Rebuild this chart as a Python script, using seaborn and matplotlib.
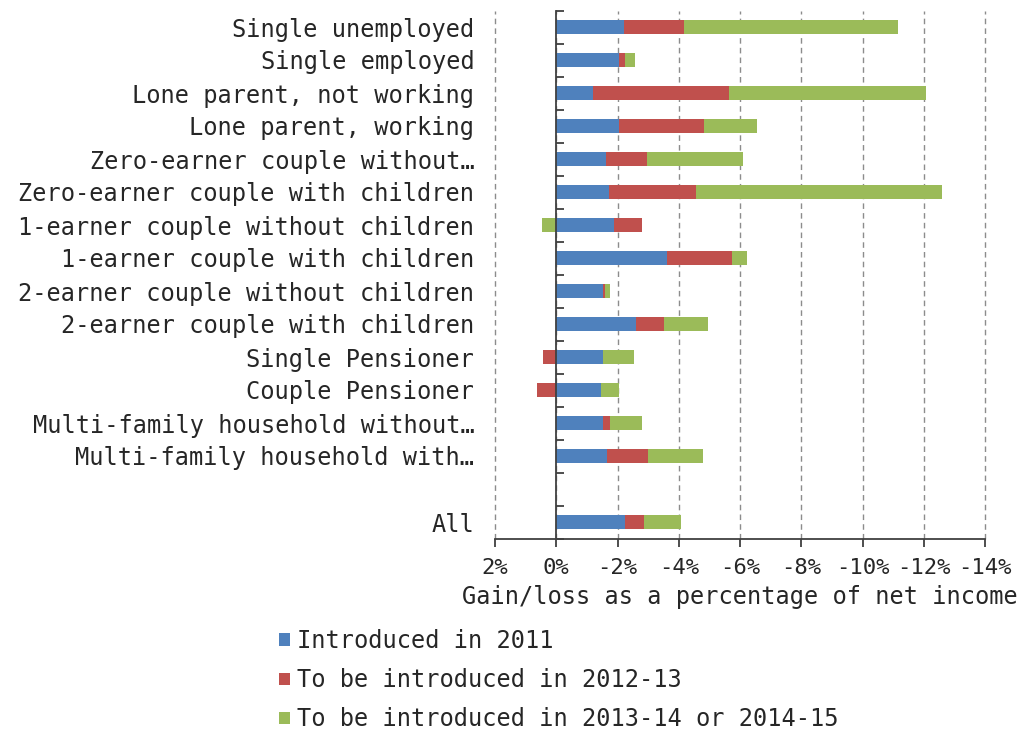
import numpy as np
import pandas as pd
import matplotlib
matplotlib.use("Agg")
import matplotlib.pyplot as plt
from matplotlib.patches import Patch
from matplotlib.ticker import FixedLocator, FuncFormatter, MultipleLocator
import seaborn as sns

# Household types, top to bottom (blank slot separates "All")
categories = [
    "Single unemployed",
    "Single employed",
    "Lone parent, not working",
    "Lone parent, working",
    "Zero-earner couple without…",
    "Zero-earner couple with children",
    "1-earner couple without children",
    "1-earner couple with children",
    "2-earner couple without children",
    "2-earner couple with children",
    "Single Pensioner",
    "Couple Pensioner",
    "Multi-family household without…",
    "Multi-family household with…",
    "",
    "All",
]

# Gain (+) / loss (-) as % of net income, by timing of reform
introduced_2011 = [-2.20, -2.04, -1.20, -2.04, -1.63, -1.71, -1.88, -3.63,
                   -1.53, -2.60, -1.54, -1.46, -1.54, -1.66, np.nan, -2.25]
introduced_2012_13 = [-1.98, -0.20, -4.44, -2.80, -1.34, -2.84, -0.91, -2.10,
                      -0.06, -0.91, 0.42, 0.63, -0.21, -1.35, np.nan, -0.63]
introduced_2013_15 = [-6.98, -0.34, -6.44, -1.72, -3.13, -8.03, 0.46, -0.49,
                      -0.16, -1.46, -1.00, -0.58, -1.04, -1.79, np.nan, -1.18]

series_names = [
    "Introduced in 2011",
    "To be introduced in 2012-13",
    "To be introduced in 2013-14 or 2014-15",
]
colors = ["#4F81BD", "#C0504D", "#9BBB59"]

sns.set_theme(style="white")
plt.rcParams["font.family"] = ["DejaVu Sans Mono", "DejaVu Sans"]
plt.rcParams["text.color"] = "#1a1a1a"

df = pd.DataFrame(
    {
        series_names[0]: introduced_2011,
        series_names[1]: introduced_2012_13,
        series_names[2]: introduced_2013_15,
    },
    index=categories,
)

fig = plt.figure(figsize=(10.22, 7.33), dpi=100)
ax = fig.add_axes([495 / 1022, 1 - 538.5 / 733, 490 / 1022, 528 / 733])

ypos = np.arange(len(categories))
pos_cum = np.zeros(len(categories))
neg_cum = np.zeros(len(categories))
for name, color in zip(series_names, colors):
    vals = df[name].fillna(0).to_numpy()
    left = np.where(vals >= 0, pos_cum, neg_cum)
    ax.barh(ypos, vals, left=left, height=0.4, color=color,
            edgecolor="none", zorder=3)
    pos_cum += np.clip(vals, 0, None)
    neg_cum += np.clip(vals, None, 0)

# Axis runs from gains on the left to losses on the right
ax.set_xlim(2, -14)
ax.set_ylim(len(categories) - 0.5, -0.5)
ax.xaxis.set_major_locator(MultipleLocator(2))
ax.xaxis.set_major_formatter(FuncFormatter(lambda v, _: f"{v:.0f}%"))
ax.grid(axis="x", color="#8c8c8c", linestyle=(0, (4, 3)), linewidth=1.0,
        zorder=0)
ax.grid(axis="y", visible=False)
for gl in ax.get_xgridlines():
    gl.set_clip_on(False)

# Category axis sits on the zero line
for s in ("top", "right"):
    ax.spines[s].set_visible(False)
ax.spines["left"].set_position(("data", 0))
ax.spines["left"].set_color("#404040")
ax.spines["left"].set_linewidth(1.3)
ax.spines["left"].set_zorder(4)
ax.spines["bottom"].set_color("#404040")
ax.spines["bottom"].set_linewidth(1.3)

ax.set_yticks(ypos)
ax.set_yticklabels(categories)
ax.yaxis.set_minor_locator(FixedLocator(np.arange(-0.5, len(categories), 1.0)))
ax.tick_params(axis="y", which="major", length=0, pad=59, labelsize=17,
               labelcolor="#262626")
ax.tick_params(axis="y", which="minor", left=True, direction="in", length=6,
               width=1.3, color="#404040")
ax.tick_params(axis="x", which="major", bottom=True, direction="out",
               length=6, width=1.3, color="#404040", labelsize=16, pad=8,
               labelcolor="#262626")

ax.set_xlabel("Gain/loss as a percentage of net income", fontsize=17,
              labelpad=5, color="#262626")

handles = [Patch(facecolor=c, edgecolor="none") for c in colors]
leg = fig.legend(handles, series_names, loc="upper left",
                 bbox_to_anchor=(258 / 1022, 1 - 608 / 733), frameon=False,
                 fontsize=17, handlelength=0.45, handleheight=0.45,
                 handletextpad=0.3, labelspacing=0.64)
for t in leg.get_texts():
    t.set_color("#262626")

fig.savefig("out.png", dpi=100)
